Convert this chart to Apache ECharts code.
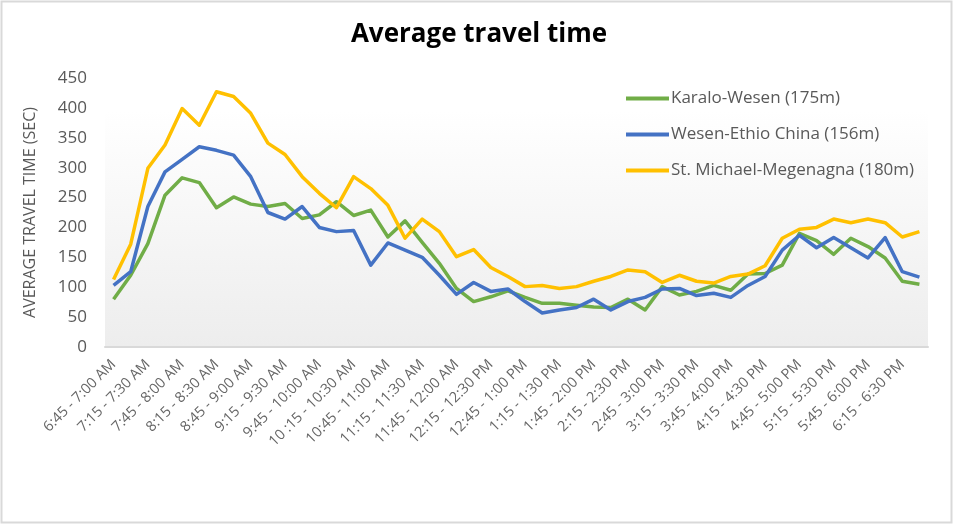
<!DOCTYPE html>
<html>
<head>
<meta charset="utf-8">
<script src="https://cdn.jsdelivr.net/npm/echarts@6/dist/echarts.min.js"></script>
<style>
html,body{margin:0;padding:0;background:#fff;}
#chart{width:958px;height:527px;}
</style>
</head>
<body>
<div id="chart"></div>
<script>
const categories = [
  "6:45 - 7:00 AM","7:00 - 7:15 AM","7:15 - 7:30 AM","7:30 - 7:45 AM",
  "7:45 - 8:00 AM","8:00 - 8:15 AM","8:15 - 8:30 AM","8:30 - 8:45 AM",
  "8:45 - 9:00 AM","9:00 - 9:15 AM","9:15 - 9:30 AM","9:30 - 9:45 AM",
  "9:45 - 10:00 AM","10:00 - 10:15 AM","10 :15 - 10:30 AM","10:30 - 10:45 AM",
  "10:45 - 11:00 AM","11:00 - 11:15 AM","11:15 - 11:30 AM","11:30 - 11:45 AM",
  "11:45 - 12:00 AM","12:00 - 12:15 PM","12:15 - 12:30 PM","12:30 - 12:45 PM",
  "12:45 - 1:00 PM","1:00 - 1:15 PM","1:15 - 1:30 PM","1:30 - 1:45 PM",
  "1:45 - 2:00 PM","2:00 - 2:15 PM","2:15 - 2:30 PM","2:30 - 2:45 PM",
  "2:45 - 3:00 PM","3:00 - 3:15 PM","3:15 - 3:30 PM","3:30 - 3:45 PM",
  "3:45 - 4:00 PM","4:00 - 4:15 PM","4:15 - 4:30 PM","4:30 - 4:45 PM",
  "4:45 - 5:00 PM","5:00 - 5:15 PM","5:15 - 5:30 PM","5:30 - 5:45 PM",
  "5:45 - 6:00 PM","6:00 - 6:15 PM","6:15 - 6:30 PM","6:30 - 6:45 PM"
];
const karaloWesen = [
  80,120,173,254,283,275,233,251,239,235,
  240,215,221,243,220,229,184,211,175,140,
  98,76,84,94,83,73,73,70,67,66,
  80,62,101,87,93,103,95,122,123,137,
  190,178,155,182,168,149,110,105
];
const wesenEthioChina = [
  103,126,235,293,314,335,329,321,285,225,
  214,235,200,193,195,137,174,162,150,120,
  88,108,93,97,76,57,62,66,80,62,
  76,83,97,98,86,90,83,103,118,162,
  187,166,183,166,149,183,126,117
];
const stMichaelMegenagna = [
  113,172,299,338,399,371,427,419,391,341,
  322,285,257,233,285,265,237,182,214,193,
  151,163,133,118,101,103,98,101,110,118,
  129,126,108,120,110,107,118,122,136,182,
  197,200,214,208,214,208,184,193
];
const seriesNames = ["Karalo-Wesen (175m)","Wesen-Ethio China (156m)","St. Michael-Megenagna (180m)"];
const seriesColors = ["#70AD47","#4472C4","#FFC000"];
const yTicks = {min:0, max:450, interval:50};

const FONT = "'Open Sans', sans-serif";
const chart = echarts.init(document.getElementById('chart'), null, {renderer:'canvas'});
const dataSets = [karaloWesen, wesenEthioChina, stMichaelMegenagna];

chart.setOption({
  animation:false,
  backgroundColor:'#ffffff',
  textStyle:{fontFamily:FONT},
  title:{
    text:'Average travel time',
    left:'center', top:17,
    textStyle:{fontFamily:FONT, fontSize:26, fontWeight:'bold', color:'#000'}
  },
  graphic:[{
    type:'rect', silent:true, z:-10,
    shape:{x:1.5,y:1.5,width:950,height:521},
    style:{fill:'none', stroke:'#d9d9d9', lineWidth:2}
  }],
  legend:{
    orient:'vertical', left:621, top:85,
    itemWidth:43, itemHeight:4, itemGap:19,
    icon:'rect',
    textStyle:{fontFamily:FONT, fontSize:17, color:'#595959', padding:[0,0,0,-3]},
    data:seriesNames
  },
  grid:{
    left:105, right:30, top:78, bottom:180,
    show:true, borderWidth:0,
    backgroundColor:{type:'linear',x:0,y:0,x2:0,y2:1,colorStops:[
      {offset:0,color:'#ffffff'},{offset:0.12,color:'#ffffff'},{offset:1,color:'#ededed'}]}
  },
  xAxis:{
    type:'category', data:categories, boundaryGap:true,
    axisLine:{show:true, lineStyle:{color:'#d9d9d9', width:2}},
    axisTick:{show:false},
    axisLabel:{interval:1, rotate:45, fontFamily:FONT, fontSize:14.5, color:'#666666', margin:15}
  },
  yAxis:{
    type:'value', min:yTicks.min, max:yTicks.max, interval:yTicks.interval,
    name:'AVERAGE TRAVEL TIME (SEC)', nameLocation:'middle', nameGap:67, nameRotate:90,
    nameTextStyle:{fontFamily:FONT, fontSize:16, color:'#595959'},
    axisLine:{show:false}, axisTick:{show:false},
    splitLine:{show:false},
    axisLabel:{fontFamily:FONT, fontSize:17, color:'#595959', margin:18}
  },
  series: seriesNames.map((n,i)=>({
    name:n, type:'line', data:dataSets[i],
    showSymbol:false, symbol:'none',
    lineStyle:{color:seriesColors[i], width:3.5, join:'round'},
    itemStyle:{color:seriesColors[i]}
  }))
});
</script>
</body>
</html>
